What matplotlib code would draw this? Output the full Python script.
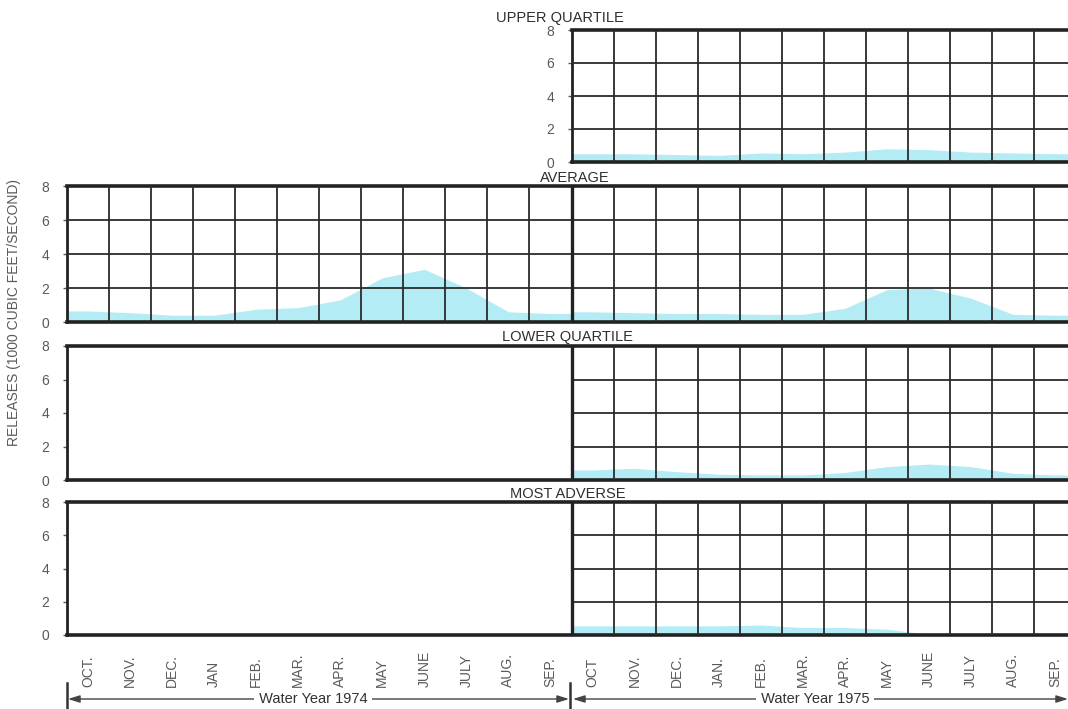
import matplotlib.pyplot as plt
from matplotlib.patches import FancyArrowPatch
import numpy as np

plt.rcParams['font.family'] = ['Liberation Sans', 'DejaVu Sans']

# monthly releases, 1000 cfs
months_1974 = ['OCT.', 'NOV.', 'DEC.', 'JAN', 'FEB.', 'MAR.', 'APR.', 'MAY', 'JUNE', 'JULY', 'AUG.', 'SEP.']
months_1975 = ['OCT', 'NOV.', 'DEC.', 'JAN.', 'FEB.', 'MAR.', 'APR.', 'MAY', 'JUNE', 'JULY', 'AUG.', 'SEP.']

avg_1974 = [0.65, 0.55, 0.4, 0.4, 0.75, 0.85, 1.3, 2.6, 3.1, 2.0, 0.6, 0.5]
avg_1975 = [0.6, 0.55, 0.5, 0.5, 0.45, 0.45, 0.8, 1.9, 2.0, 1.4, 0.45, 0.4]
upper_1975 = [0.5, 0.5, 0.45, 0.4, 0.55, 0.5, 0.6, 0.8, 0.75, 0.6, 0.55, 0.5]
lower_1975 = [0.6, 0.7, 0.5, 0.35, 0.3, 0.3, 0.45, 0.8, 0.95, 0.8, 0.4, 0.3]
adverse_1975 = [0.55, 0.55, 0.55, 0.55, 0.6, 0.45, 0.45, 0.35, 0.05, 0.0, 0.0, 0.0]

yticks = [0, 2, 4, 6, 8]

W, H = 1068, 709
FILL = '#b4ecf6'
GRID = '#2b2b2b'
TXT = '#5a5a5a'

fig = plt.figure(figsize=(W / 100, H / 100), dpi=100)


def px_axes(x0, y0, x1, y1):
    return fig.add_axes([x0 / W, 1 - y1 / H, (x1 - x0) / W, (y1 - y0) / H])


def release_fill(ax, start, values):
    x = np.r_[start, start + 0.5 + np.arange(12), start + 12]
    y = np.r_[values[0], values, values[-1]]
    ax.fill_between(x, 0, y, color=FILL, lw=0, zorder=1)


def panel(x0, y0, y1, xmin, grid_from):
    ax = px_axes(x0, y0, 1076, y1)
    ax.set_xlim(xmin, 24)
    ax.set_ylim(0, 8)
    ax.set_xticks([])
    ax.set_yticks(yticks)
    ax.tick_params(axis='y', length=3, width=1, color=TXT, labelcolor=TXT,
                   labelsize=10, pad=10)
    for side in ['top', 'bottom']:
        ax.spines[side].set_linewidth(2.6)
        ax.spines[side].set_color('#222222')
    ax.spines['left'].set_linewidth(2.0)
    ax.spines['left'].set_color('#222222')
    ax.spines['right'].set_visible(False)
    # month grid
    for m in range(grid_from + 1, 24):
        if m == 12:
            continue
        ax.axvline(m, color=GRID, lw=1.3, zorder=3)
    for v in yticks[1:-1]:
        ax.hlines(v, grid_from, 24, color=GRID, lw=1.3, zorder=3)
    if xmin < 12:
        ax.axvline(12, color='#222222', lw=2.4, zorder=4)
    return ax


ax_up = panel(572, 30, 162, 12, 12)
release_fill(ax_up, 12, upper_1975)

ax_avg = panel(67, 186, 322, 0, 0)
release_fill(ax_avg, 0, avg_1974)
release_fill(ax_avg, 12, avg_1975)

ax_low = panel(67, 346, 480, 0, 12)
release_fill(ax_low, 12, lower_1975)

ax_adv = panel(67, 502, 635, 0, 12)
release_fill(ax_adv, 12, adverse_1975)

# panel titles
title_kw = dict(ha='center', va='center', fontsize=10.5, color='#2e2e2e')
fig.text(560 / W, 1 - 18 / H, 'UPPER QUARTILE', **title_kw)
fig.text(575 / W, 1 - 178 / H, 'AVERAGE', **title_kw)
fig.text(567 / W, 1 - 337 / H, 'LOWER QUARTILE', **title_kw)
fig.text(568 / W, 1 - 494 / H, 'MOST ADVERSE', **title_kw)

fig.text(14 / W, 1 - 312 / H, 'RELEASES (1000 CUBIC FEET/SECOND)', rotation=90,
         ha='center', va='center', fontsize=10, color=TXT)

# month labels under the bottom panel
trans = ax_adv.get_xaxis_transform()
for i, name in enumerate(months_1974 + months_1975):
    ax_adv.text(i + 0.5, -(687 - 635) / 133, name, transform=trans, rotation=90,
                ha='center', va='bottom', fontsize=10, color=TXT, clip_on=False)

# water year spans
yr_y = 1 - 699 / H
for xa in [67, 570]:
    fig.add_artist(plt.Line2D([xa / W, xa / W], [1 - 683 / H, 1 - 709 / H],
                              color='#333333', lw=1.8))
for xa, xb, label in [(68, 569, 'Water Year 1974'), (573, 1068, 'Water Year 1975')]:
    fig.add_artist(FancyArrowPatch((xa / W, yr_y), (xb / W, yr_y),
                                   transform=fig.transFigure,
                                   arrowstyle='<|-|>,head_length=0.7,head_width=0.22',
                                   mutation_scale=10, color='#444444', lw=1.0,
                                   shrinkA=0, shrinkB=0))
    fig.text((xa + xb) / 2 / W - 0.005, yr_y, ' ' + label + ' ', ha='center',
             va='center', fontsize=10.5, color='#333333',
             bbox=dict(facecolor='white', edgecolor='none', pad=0.3))

fig.savefig('out.png', dpi=100)
